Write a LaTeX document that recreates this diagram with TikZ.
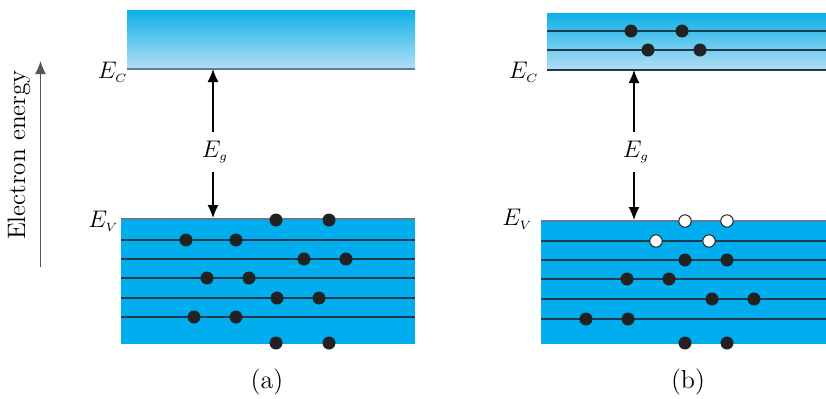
\documentclass[tikz,border=0pt]{standalone}
\usepackage{amsmath}
\usepackage{tikz}
\usetikzlibrary{positioning,arrows.meta}

\definecolor{vband}{HTML}{00AEEF}
\definecolor{cbtop}{HTML}{0CB0E7}
\definecolor{cbbot}{HTML}{B4DEF5}
\definecolor{levelcol}{HTML}{1E3A4C}
\definecolor{edgecol}{HTML}{5E7E94}
\definecolor{dotcol}{HTML}{222222}
\definecolor{axiscol}{HTML}{555555}

\newcommand{\lev}[1]{$E_{\scriptscriptstyle #1}$}

\tikzset{
  electron/.style={circle, fill=dotcol, inner sep=0pt, minimum size=6.5pt},
  hole/.style={circle, draw=dotcol, fill=white, line width=0.5pt,
               inner sep=0pt, minimum size=6.2pt},
  level/.style={draw=levelcol, line width=0.9pt},
  bandedge/.style={draw=edgecol, line width=0.8pt},
  lbl/.style={font=\fontsize{11.5}{14}\selectfont, inner sep=1pt},
  caption/.style={font=\fontsize{13}{15}\selectfont},
  gap/.style={-{Latex[length=6.5pt,width=5.5pt]}, line width=0.6pt}
}

\begin{document}
\begin{tikzpicture}[x=0.5pt, y=-0.5pt]
  \useasboundingbox (0,0) rectangle (826,398);

  % energy axis
  \coordinate (axlo) at (40.5,267);
  \coordinate (axhi) at (40.5,61);
  \draw[axiscol, line width=0.7pt, -{Latex[length=6.5pt,width=5.5pt]}] (axlo) -- (axhi);
  \node (axlabel) [rotate=90, font=\fontsize{12.6}{14}\selectfont]
    at (19,155) {Electron energy};

  % (a) conduction band
  \shade[top color=cbtop, bottom color=cbbot] (127,10) rectangle (415,69);
  \draw[bandedge] (127,69) -- (415,69);
  \node (eca) [lbl, anchor=east] at (130,72) {\lev{C}};

  % (a) valence band
  \fill[vband] (121,219) rectangle (415,344);
  \draw[bandedge] (121,219) -- (415,219);
  \foreach \y in {240,259,278,298,317}
    \draw[level] (121,\y) -- (415,\y);
  \node (eva) [lbl, anchor=east] at (121,221) {\lev{V}};

  \foreach \x/\y [count=\i] in {276/220,329/220,186/240,236/240,304/259,346/259,
      207/278,249/278,277/298,319/298,194/317,236/317,276/343,329/343}
    \node (ea\i) [electron] at (\x,\y) {};

  % (a) gap
  \node (ega) [lbl, inner sep=4pt] at (215,152) {\lev{g}};
  \coordinate (topa) at (213,69);
  \coordinate (bota) at (213,218);
  \draw[gap] (ega.north -| topa) -- (topa);
  \draw[gap] (ega.south -| bota) -- (bota);

  \node (capa) [caption] at (267,382) {(a)};

  % (b) conduction band
  \shade[top color=cbtop, bottom color=cbbot] (547,13) rectangle (826,70);
  \foreach \y in {31,50}
    \draw[level] (547,\y) -- (826,\y);
  \draw[levelcol, line width=0.8pt] (547,70) -- (826,70);
  \node (ecb) [lbl, anchor=east] at (541,72) {\lev{C}};

  \foreach \x/\y [count=\i] in {631/31,682/31,648/50,700/50}
    \node (cb\i) [electron] at (\x,\y) {};

  % (b) valence band
  \fill[vband] (541,221) rectangle (826,344);
  \draw[bandedge] (541,221) -- (826,221);
  \foreach \y in {241,260,279,299,319}
    \draw[level] (541,\y) -- (826,\y);
  \node (evb) [lbl, anchor=east] at (535,219) {\lev{V}};

  \foreach \x/\y [count=\i] in {685/221,727/221,656/241,709/241}
    \node (hb\i) [hole] at (\x,\y) {};
  \foreach \x/\y [count=\i] in {685/260,727/260,627/279,669/279,712/299,754/299,
      586/319,628/319,685/343,727/343}
    \node (eb\i) [electron] at (\x,\y) {};

  % (b) gap
  \node (egb) [lbl, inner sep=4pt] at (636,152) {\lev{g}};
  \coordinate (topb) at (634,70);
  \coordinate (botb) at (634,220);
  \draw[gap] (egb.north -| topb) -- (topb);
  \draw[gap] (egb.south -| botb) -- (botb);

  \node (capb) [caption] at (688,382) {(b)};
\end{tikzpicture}
\end{document}
